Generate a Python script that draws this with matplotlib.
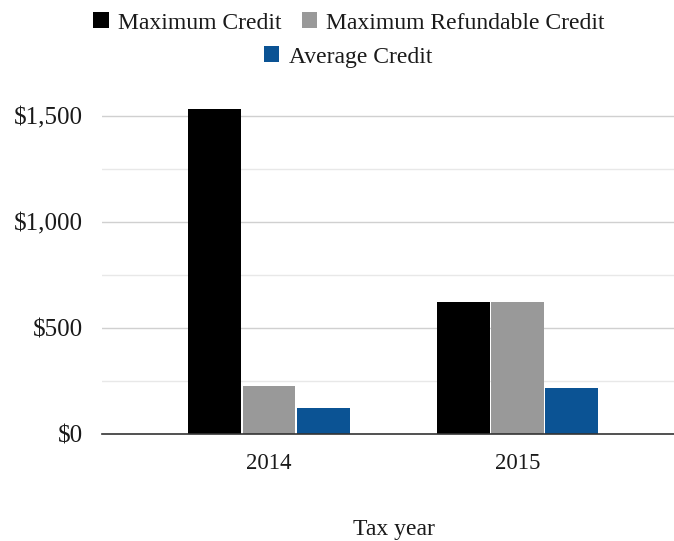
import matplotlib
matplotlib.use('Agg')
import matplotlib.pyplot as plt
import numpy as np
from matplotlib.ticker import FuncFormatter

years = ['2014', '2015']
max_credit = [1535, 623]
max_refundable = [226, 623]
avg_credit = [121, 215]

series = [
	('Maximum Credit', max_credit, '#000000'),
	('Maximum Refundable Credit', max_refundable, '#999999'),
	('Average Credit', avg_credit, '#0b5394'),
]

plt.rcParams['font.family'] = ['Liberation Serif', 'DejaVu Serif']

fig = plt.figure(figsize=(6.74, 5.41), dpi=100)
ax = fig.add_axes([102 / 674, 1 - 434 / 541, 572 / 674, (434 - 94.8) / 541])

x = np.arange(len(years))
bar_w = 0.213
step = 0.219
handles = []
for i, (name, vals, color) in enumerate(series):
	b = ax.bar(x + (i - 1) * step, vals, bar_w, color=color, label=name, zorder=3)
	handles.append(b)

ax.set_xlim(-0.672, 1.630)
ax.set_ylim(0, 1600)

# major lines every $500, lighter ones in between
for v in [250, 750, 1250]:
	ax.axhline(v, color='#e8e8e8', lw=1, zorder=1)
for v in [500, 1000, 1500]:
	ax.axhline(v, color='#d0d0d0', lw=1, zorder=1)

ax.set_yticks([0, 500, 1000, 1500])
ax.yaxis.set_major_formatter(FuncFormatter(lambda v, p: '${:,.0f}'.format(v)))
ax.set_xticks(x)
ax.set_xticklabels(years)
ax.tick_params(axis='y', length=0, pad=14, labelsize=18, labelcolor='#1a1a1a')
ax.tick_params(axis='x', length=0, pad=14, labelsize=16.5, labelcolor='#1a1a1a')

for s in ['top', 'right', 'left']:
	ax.spines[s].set_visible(False)
ax.spines['bottom'].set_color('#333333')
ax.spines['bottom'].set_linewidth(1.2)
ax.spines['bottom'].set_zorder(4)

fig.text(394 / 674, 1 - 530 / 541, 'Tax year', ha='center', va='center',
	fontsize=17, color='#1a1a1a')

leg_kw = dict(frameon=False, fontsize=17, handlelength=0.64, handleheight=0.64,
	handletextpad=0.4, columnspacing=0.85, borderaxespad=0, borderpad=0)
leg1 = fig.legend(handles[:2], [s[0] for s in series[:2]], ncol=2,
	loc='center', bbox_to_anchor=(349 / 674, 1 - 23 / 541), **leg_kw)
leg2 = fig.legend(handles[2:], [series[2][0]], ncol=1,
	loc='center', bbox_to_anchor=(348 / 674, 1 - 57 / 541), **leg_kw)
for leg in (leg1, leg2):
	for t in leg.get_texts():
		t.set_color('#1a1a1a')

fig.savefig('out.png', dpi=100)
